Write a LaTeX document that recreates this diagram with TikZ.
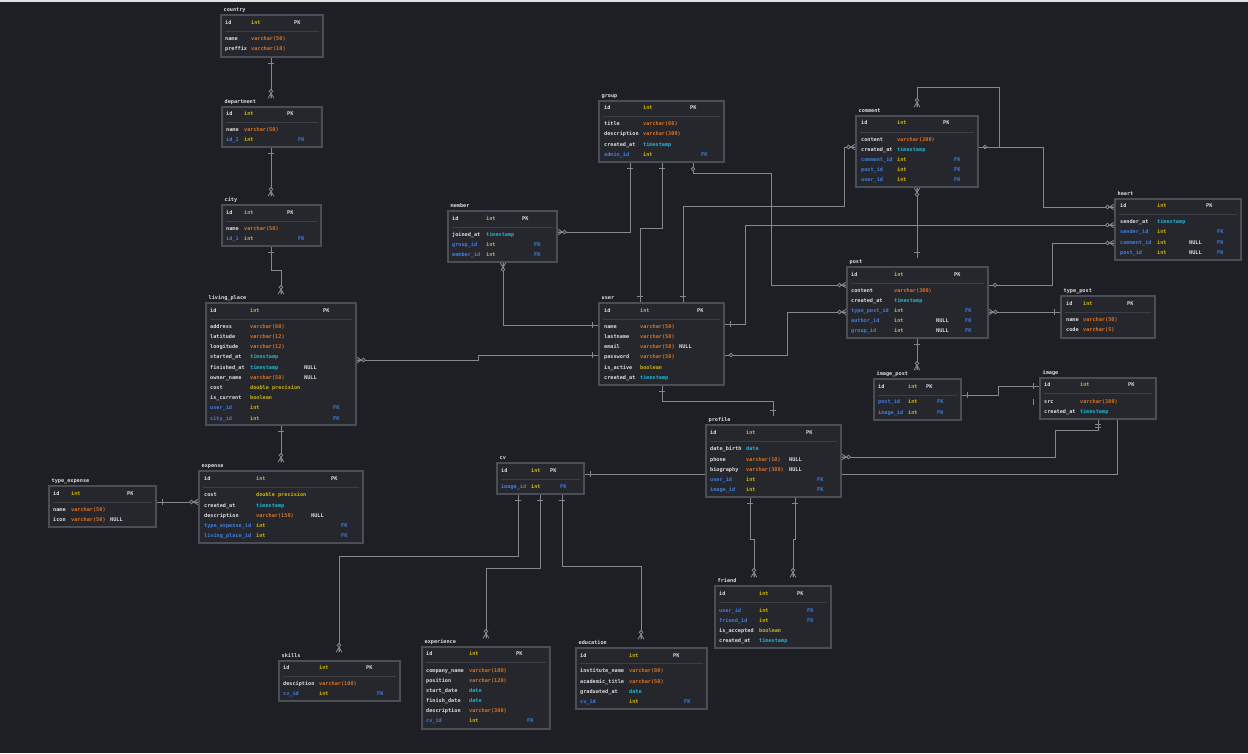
\documentclass[tikz,border=0pt]{standalone}
\usepackage{fontspec}
\setmonofont{DejaVu Sans Mono}
\usetikzlibrary{fit,calc}
\definecolor{cbg}{HTML}{1E1F24}
\definecolor{cbox}{HTML}{25272D}
\definecolor{cbord}{HTML}{4B4E57}
\definecolor{csep}{HTML}{3C3F47}
\definecolor{cw}{HTML}{DCDCDC}
\definecolor{cy}{HTML}{CDB40F}
\definecolor{co}{HTML}{DB7222}
\definecolor{cc}{HTML}{22B5D0}
\definecolor{cb}{HTML}{3F7FE0}
\definecolor{cln}{HTML}{85878E}
\newcounter{rn}
\pgfdeclarelayer{bg}
\pgfsetlayers{bg,main}
\newcommand\cellfont{\ttfamily\bfseries\fontsize{5.2}{6}\selectfont}
\newcommand\setcols[5]{\def\cxN{#1}\def\cxT{#2}\def\cxU{#3}\def\cxP{#4}\def\cxF{#5}}
\def\kPK{PK}\def\kFK{FK}
\newcommand\trow[7]{%
 \stepcounter{rn}\node[cell,text=#2] (r\arabic{rn}) at (\cxN,#1) {#3};%
 \stepcounter{rn}\node[cell,text=#4] (r\arabic{rn}) at (\cxT,#1) {#5};%
 \ifx\relax#6\relax\else\stepcounter{rn}\node[cell,text=cw] (r\arabic{rn}) at (\cxU,#1) {#6};\fi
 \def\kk{#7}%
 \ifx\kk\kPK\stepcounter{rn}\node[cell,text=cw] (r\arabic{rn}) at (\cxP,#1) {PK};\fi
 \ifx\kk\kFK\stepcounter{rn}\node[cell,text=cb] (r\arabic{rn}) at (\cxF,#1) {FK};\fi}
\newcommand\tbl[7]{%
 \node[tbox, fit={(#2,#3)(#4,#5)}] (#1) {};
 \node[ttl] (#1T) at (#2+2,#3-3.2) {#6};
 \draw[sepl] (#2+4,#7) -- (#4-4,#7);}
\tikzset{
 cell/.style={anchor=west,inner sep=0pt,text height=3.8pt,text depth=0pt,font=\cellfont},
 tbox/.style={draw=cbord,fill=cbox,line width=1.1pt,inner sep=0pt},
 ttl/.style={anchor=base west,inner xsep=0.5pt,inner ysep=1.5pt,text height=3.8pt,text depth=0pt,font=\cellfont,text=cw},
 sepl/.style={draw=csep,line width=0.8pt},
 conn/.style={draw=cln,line width=1pt},
 mk/.style={draw=cln,line width=0.8pt},
 mOne/.pic={\draw[mk] (-6pt,-3pt) -- (-6pt,3pt);},
 mOneTwo/.pic={\draw[mk] (-5pt,-3pt) -- (-5pt,3pt) (-8pt,-3pt) -- (-8pt,3pt);},
 mZone/.pic={\draw[mk,fill=cbg] (-6.5pt,0) circle (1.8pt);},
 mZcrow/.pic={\draw[mk] (-5pt,0) -- (0,3pt) (-5pt,0) -- (0,-3pt) (-5pt,0) -- (0,0);
   \draw[mk,fill=cbg] (-7pt,0) circle (1.8pt);}
}
\begin{document}
\begin{tikzpicture}[x=1pt,y=-1pt]
\useasboundingbox (0,0) rectangle (1248,753);
% ---------------- tables ----------------
\tbl{country}{221}{15}{323}{57}{country}{31}
\setcols{225}{251}{0}{294}{0}
\trow{23}{cw}{id}{cy}{int}{}{PK}
\trow{39}{cw}{name}{co}{varchar(50)}{}{}
\trow{49}{cw}{preffix}{co}{varchar(10)}{}{}

\tbl{department}{222}{107}{322}{147}{department}{122}
\setcols{226}{244}{0}{287}{298}
\trow{114}{cw}{id}{cy}{int}{}{PK}
\trow{130}{cw}{name}{co}{varchar(50)}{}{}
\trow{140}{cb}{id\_1}{cy}{int}{}{FK}

\tbl{city}{222}{205}{321}{246}{city}{221}
\setcols{226}{244}{0}{287}{298}
\trow{213}{cw}{id}{cy}{int}{}{PK}
\trow{229}{cw}{name}{co}{varchar(50)}{}{}
\trow{239}{cb}{id\_1}{cy}{int}{}{FK}

\tbl{living}{206}{303}{356}{425}{living\_place}{319}
\setcols{210}{250}{304}{323}{333}
\trow{311}{cw}{id}{cy}{int}{}{PK}
\trow{327}{cw}{address}{co}{varchar(60)}{}{}
\trow{337}{cw}{latitude}{co}{varchar(12)}{}{}
\trow{347}{cw}{longitude}{co}{varchar(12)}{}{}
\trow{357}{cw}{started\_at}{cc}{timestamp}{}{}
\trow{368}{cw}{finished\_at}{cc}{timestamp}{NULL}{}
\trow{378}{cw}{owner\_name}{co}{varchar(50)}{NULL}{}
\trow{388}{cw}{cost}{cy}{double precision}{}{}
\trow{398}{cw}{is\_current}{cy}{boolean}{}{}
\trow{408}{cb}{user\_id}{cy}{int}{}{FK}
\trow{419}{cb}{city\_id}{cy}{int}{}{FK}

\tbl{expense}{199}{471}{363}{543}{expense}{487}
\setcols{204}{256}{311}{331}{341}
\trow{479}{cw}{id}{cy}{int}{}{PK}
\trow{495}{cw}{cost}{cy}{double precision}{}{}
\trow{506}{cw}{created\_at}{cc}{timestamp}{}{}
\trow{516}{cw}{description}{co}{varchar(150)}{NULL}{}
\trow{526}{cb}{type\_expense\_id}{cy}{int}{}{FK}
\trow{536}{cb}{living\_place\_id}{cy}{int}{}{FK}

\tbl{typeexp}{49}{486}{156}{527}{type\_expense}{502}
\setcols{53}{71}{110}{127}{0}
\trow{494}{cw}{id}{cy}{int}{}{PK}
\trow{510}{cw}{name}{co}{varchar(50)}{}{}
\trow{520}{cw}{icon}{co}{varchar(50)}{NULL}{}

\tbl{member}{448}{211}{557}{262}{member}{227}
\setcols{452}{486}{0}{522}{534}
\trow{219}{cw}{id}{cy}{int}{}{PK}
\trow{235}{cw}{joined\_at}{cc}{timestamp}{}{}
\trow{245}{cb}{group\_id}{cy}{int}{}{FK}
\trow{255}{cb}{member\_id}{cy}{int}{}{FK}

\tbl{group}{599}{101}{724}{162}{group}{116}
\setcols{604}{643}{0}{690}{701}
\trow{108}{cw}{id}{cy}{int}{}{PK}
\trow{124}{cw}{title}{co}{varchar(60)}{}{}
\trow{134}{cw}{description}{co}{varchar(300)}{}{}
\trow{145}{cw}{created\_at}{cc}{timestamp}{}{}
\trow{155}{cb}{admin\_id}{cy}{int}{}{FK}

\tbl{comment}{856}{116}{978}{187}{comment}{132}
\setcols{861}{897}{0}{943}{954}
\trow{123}{cw}{id}{cy}{int}{}{PK}
\trow{140}{cw}{content}{co}{varchar(200)}{}{}
\trow{150}{cw}{created\_at}{cc}{timestamp}{}{}
\trow{160}{cb}{comment\_id}{cy}{int}{}{FK}
\trow{170}{cb}{post\_id}{cy}{int}{}{FK}
\trow{180}{cb}{user\_id}{cy}{int}{}{FK}

\tbl{heart}{1115}{199}{1241}{260}{heart}{214}
\setcols{1120}{1157}{1189}{1206}{1217}
\trow{206}{cw}{id}{cy}{int}{}{PK}
\trow{222}{cw}{sender\_at}{cc}{timestamp}{}{}
\trow{232}{cb}{sender\_id}{cy}{int}{}{FK}
\trow{243}{cb}{comment\_id}{cy}{int}{NULL}{FK}
\trow{253}{cb}{post\_id}{cy}{int}{NULL}{FK}

\tbl{user}{599}{303}{724}{385}{user}{319}
\setcols{604}{640}{679}{697}{0}
\trow{311}{cw}{id}{cy}{int}{}{PK}
\trow{327}{cw}{name}{co}{varchar(50)}{}{}
\trow{337}{cw}{lastname}{co}{varchar(50)}{}{}
\trow{347}{cw}{email}{co}{varchar(50)}{NULL}{}
\trow{357}{cw}{password}{co}{varchar(50)}{}{}
\trow{368}{cw}{is\_active}{cy}{boolean}{}{}
\trow{378}{cw}{created\_at}{cc}{timestamp}{}{}

\tbl{post}{847}{267}{988}{338}{post}{283}
\setcols{851}{894}{936}{954}{965}
\trow{275}{cw}{id}{cy}{int}{}{PK}
\trow{291}{cw}{content}{co}{varchar(300)}{}{}
\trow{301}{cw}{created\_at}{cc}{timestamp}{}{}
\trow{311}{cb}{type\_post\_id}{cy}{int}{}{FK}
\trow{321}{cb}{author\_id}{cy}{int}{NULL}{FK}
\trow{331}{cb}{group\_id}{cy}{int}{NULL}{FK}

\tbl{typepost}{1061}{296}{1155}{338}{type\_post}{312}
\setcols{1066}{1083}{0}{1127}{0}
\trow{304}{cw}{id}{cy}{int}{}{PK}
\trow{320}{cw}{name}{co}{varchar(50)}{}{}
\trow{330}{cw}{code}{co}{varchar(5)}{}{}

\tbl{imagepost}{874}{379}{961}{420}{image\_post}{395}
\setcols{878}{908}{0}{926}{937}
\trow{387}{cw}{id}{cy}{int}{}{PK}
\trow{402}{cb}{post\_id}{cy}{int}{}{FK}
\trow{413}{cb}{image\_id}{cy}{int}{}{FK}

\tbl{image}{1040}{378}{1156}{419}{image}{393}
\setcols{1044}{1080}{0}{1128}{0}
\trow{385}{cw}{id}{cy}{int}{}{PK}
\trow{402}{cw}{src}{co}{varchar(100)}{}{}
\trow{412}{cw}{created\_at}{cc}{timestamp}{}{}

\tbl{profile}{706}{425}{841}{497}{profile}{441}
\setcols{710}{746}{789}{806}{817}
\trow{433}{cw}{id}{cy}{int}{}{PK}
\trow{449}{cw}{date\_birth}{cc}{date}{}{}
\trow{460}{cw}{phone}{co}{varchar(10)}{NULL}{}
\trow{470}{cw}{biography}{co}{varchar(300)}{NULL}{}
\trow{480}{cb}{user\_id}{cy}{int}{}{FK}
\trow{490}{cb}{image\_id}{cy}{int}{}{FK}

\tbl{cv}{497}{463}{584}{494}{cv}{479}
\setcols{501}{531}{0}{550}{560}
\trow{471}{cw}{id}{cy}{int}{}{PK}
\trow{487}{cb}{image\_id}{cy}{int}{}{FK}

\tbl{skills}{279}{661}{400}{701}{skills}{676}
\setcols{283}{319}{0}{366}{377}
\trow{668}{cw}{id}{cy}{int}{}{PK}
\trow{684}{cw}{desciption}{co}{varchar(100)}{}{}
\trow{694}{cb}{cv\_id}{cy}{int}{}{FK}

\tbl{experience}{422}{647}{550}{729}{experience}{662}
\setcols{426}{469}{0}{516}{527}
\trow{654}{cw}{id}{cy}{int}{}{PK}
\trow{671}{cw}{company\_name}{co}{varchar(100)}{}{}
\trow{681}{cw}{position}{co}{varchar(120)}{}{}
\trow{691}{cw}{start\_date}{cc}{date}{}{}
\trow{701}{cw}{finish\_date}{cc}{date}{}{}
\trow{711}{cw}{description}{co}{varchar(300)}{}{}
\trow{721}{cb}{cv\_id}{cy}{int}{}{FK}

\tbl{education}{576}{648}{707}{709}{education}{663}
\setcols{580}{629}{0}{673}{684}
\trow{656}{cw}{id}{cy}{int}{}{PK}
\trow{671}{cw}{institute\_name}{co}{varchar(80)}{}{}
\trow{682}{cw}{academic\_title}{co}{varchar(50)}{}{}
\trow{692}{cw}{graduated\_at}{cc}{date}{}{}
\trow{702}{cb}{cv\_id}{cy}{int}{}{FK}

\tbl{friend}{715}{586}{831}{648}{friend}{602}
\setcols{719}{759}{0}{797}{807}
\trow{594}{cw}{id}{cy}{int}{}{PK}
\trow{611}{cb}{user\_id}{cy}{int}{}{FK}
\trow{621}{cb}{friend\_id}{cy}{int}{}{FK}
\trow{631}{cw}{is\_accepted}{cy}{boolean}{}{}
\trow{641}{cw}{created\_at}{cc}{timestamp}{}{}

% ---------------- background and connectors ----------------
\begin{pgfonlayer}{bg}
\fill[cbg] (0,0) rectangle (1248,753);
\fill[white!88!black] (0,0) rectangle (1248,1.5);
% country - department
\draw[conn] (country.south -| 271,0) -- (departmentT.north -| 271,0);
\pic[rotate=90] at (country.south -| 271,0) {mOne};
\pic[rotate=-90] at (departmentT.north -| 271,0) {mZcrow};
% department - city
\draw[conn] (department.south -| 271,0) -- (cityT.north -| 271,0);
\pic[rotate=90] at (department.south -| 271,0) {mOne};
\pic[rotate=-90] at (cityT.north -| 271,0) {mZcrow};
% city - living_place
\draw[conn] (city.south -| 271,0) -- (271,270) -- (281,270) -- (livingT.north -| 281,0);
\pic[rotate=90] at (city.south -| 271,0) {mOne};
\pic[rotate=-90] at (livingT.north -| 281,0) {mZcrow};
% living_place - expense
\draw[conn] (living.south -| 281,0) -- (expenseT.north -| 281,0);
\pic[rotate=90] at (living.south -| 281,0) {mOne};
\pic[rotate=-90] at (expenseT.north -| 281,0) {mZcrow};
% type_expense - expense
\draw[conn] (typeexp.east |- 0,502) -- (expense.west |- 0,502);
\pic[rotate=180] at (typeexp.east |- 0,502) {mOne};
\pic[rotate=0] at (expense.west |- 0,502) {mZcrow};
% member - group
\draw[conn] (member.east |- 0,232) -- (630,232) -- (group.south -| 630,0);
\pic[rotate=180] at (member.east |- 0,232) {mZcrow};
\pic[rotate=90] at (group.south -| 630,0) {mOne};
% member - user
\draw[conn] (member.south -| 503,0) -- (503,325) -- (user.west |- 0,325);
\pic[rotate=90] at (member.south -| 503,0) {mZcrow};
\pic[rotate=0] at (user.west |- 0,325) {mOne};
% user - living_place
\draw[conn] (user.west |- 0,355) -- (478,355) -- (478,360) -- (living.east |- 0,360);
\pic[rotate=0] at (user.west |- 0,355) {mOne};
\pic[rotate=180] at (living.east |- 0,360) {mZcrow};
% group - user (admin)
\draw[conn] (group.south -| 662,0) -- (662,228) -- (640,228) -- (user.north -| 640,0);
\pic[rotate=90] at (group.south -| 662,0) {mOne};
\pic[rotate=-90] at (user.north -| 640,0) {mOne};
% group - post
\draw[conn] (group.south -| 693,0) -- (693,173) -- (771,173) -- (771,285) -- (post.west |- 0,285);
\pic[rotate=90] at (group.south -| 693,0) {mZone};
\pic[rotate=0] at (post.west |- 0,285) {mZcrow};
% comment - user
\draw[conn] (comment.west |- 0,147) -- (844,147) -- (844,206) -- (683,206) -- (user.north -| 683,0);
\pic[rotate=0] at (comment.west |- 0,147) {mZcrow};
\pic[rotate=-90] at (user.north -| 683,0) {mOne};
% user - heart
\draw[conn] (user.east |- 0,324) -- (745,324) -- (745,225) -- (heart.west |- 0,225);
\pic[rotate=180] at (user.east |- 0,324) {mOne};
\pic[rotate=0] at (heart.west |- 0,225) {mZcrow};
% comment - comment
\draw[conn] (comment.east |- 0,147) -- (999,147) -- (999,87) -- (917,87) -- (commentT.north -| 917,0);
\pic[rotate=180] at (comment.east |- 0,147) {mZone};
\pic[rotate=-90] at (commentT.north -| 917,0) {mZcrow};
% comment - heart
\draw[conn] (comment.east |- 0,147) -- (1043,147) -- (1043,207) -- (heart.west |- 0,207);
\pic[rotate=0] at (heart.west |- 0,207) {mZcrow};
% post - heart
\draw[conn] (post.east |- 0,285) -- (1052,285) -- (1052,243) -- (heart.west |- 0,243);
\pic[rotate=180] at (post.east |- 0,285) {mZone};
\pic[rotate=0] at (heart.west |- 0,243) {mZcrow};
% comment - post
\draw[conn] (comment.south -| 917,0) -- (postT.north -| 917,0);
\pic[rotate=90] at (comment.south -| 917,0) {mZcrow};
\pic[rotate=-90] at (postT.north -| 917,0) {mOne};
% post - image_post
\draw[conn] (post.south -| 917,0) -- (imagepostT.north -| 917,0);
\pic[rotate=90] at (post.south -| 917,0) {mOne};
\pic[rotate=-90] at (imagepostT.north -| 917,0) {mZcrow};
% post - type_post
\draw[conn] (post.east |- 0,312) -- (typepost.west |- 0,312);
\pic[rotate=180] at (post.east |- 0,312) {mZcrow};
\pic[rotate=0] at (typepost.west |- 0,312) {mOne};
% image_post - image
\draw[conn] (imagepost.east |- 0,395) -- (998,395) -- (998,386) -- (image.west |- 0,386);
\pic[rotate=180] at (imagepost.east |- 0,395) {mOne};
\pic[rotate=0] at (image.west |- 0,386) {mOne};
\pic[rotate=0] at (image.west |- 0,402) {mOne};
% image - profile
\draw[conn] (image.south -| 1098,0) -- (1098,430) -- (1055,430) -- (1055,457) -- (profile.east |- 0,457);
\pic[rotate=90] at (image.south -| 1098,0) {mOneTwo};
\pic[rotate=180] at (profile.east |- 0,457) {mZcrow};
% image - cv
\draw[conn] (image.south -| 1117,0) -- (1117,474) -- (cv.east |- 0,474);
\pic[rotate=180] at (cv.east |- 0,474) {mOne};
% user - profile
\draw[conn] (user.south -| 662,0) -- (662,401) -- (773,401) -- (profileT.north -| 773,0);
\pic[rotate=90] at (user.south -| 662,0) {mOne};
\pic[rotate=-90] at (profileT.north -| 773,0) {mOne};
% user - post
\draw[conn] (user.east |- 0,355) -- (787,355) -- (787,312) -- (post.west |- 0,312);
\pic[rotate=180] at (user.east |- 0,355) {mZone};
\pic[rotate=0] at (post.west |- 0,312) {mZcrow};
% profile - friend
\draw[conn] (profile.south -| 750,0) -- (750,539) -- (754,539) -- (friendT.north -| 754,0);
\pic[rotate=90] at (profile.south -| 750,0) {mOne};
\pic[rotate=-90] at (friendT.north -| 754,0) {mZcrow};
\draw[conn] (profile.south -| 795,0) -- (795,539) -- (793,539) -- (friendT.north -| 793,0);
\pic[rotate=90] at (profile.south -| 795,0) {mOne};
\pic[rotate=-90] at (friendT.north -| 793,0) {mZcrow};
% cv - skills / experience / education
\draw[conn] (cv.south -| 518,0) -- (518,556) -- (339,556) -- (skillsT.north -| 339,0);
\pic[rotate=90] at (cv.south -| 518,0) {mOne};
\pic[rotate=-90] at (skillsT.north -| 339,0) {mZcrow};
\draw[conn] (cv.south -| 540,0) -- (540,568) -- (486,568) -- (experienceT.north -| 486,0);
\pic[rotate=90] at (cv.south -| 540,0) {mOne};
\pic[rotate=-90] at (experienceT.north -| 486,0) {mZcrow};
\draw[conn] (cv.south -| 562,0) -- (562,566) -- (641,566) -- (educationT.north -| 641,0);
\pic[rotate=90] at (cv.south -| 562,0) {mOne};
\pic[rotate=-90] at (educationT.north -| 641,0) {mZcrow};
\end{pgfonlayer}
\end{tikzpicture}
\end{document}
